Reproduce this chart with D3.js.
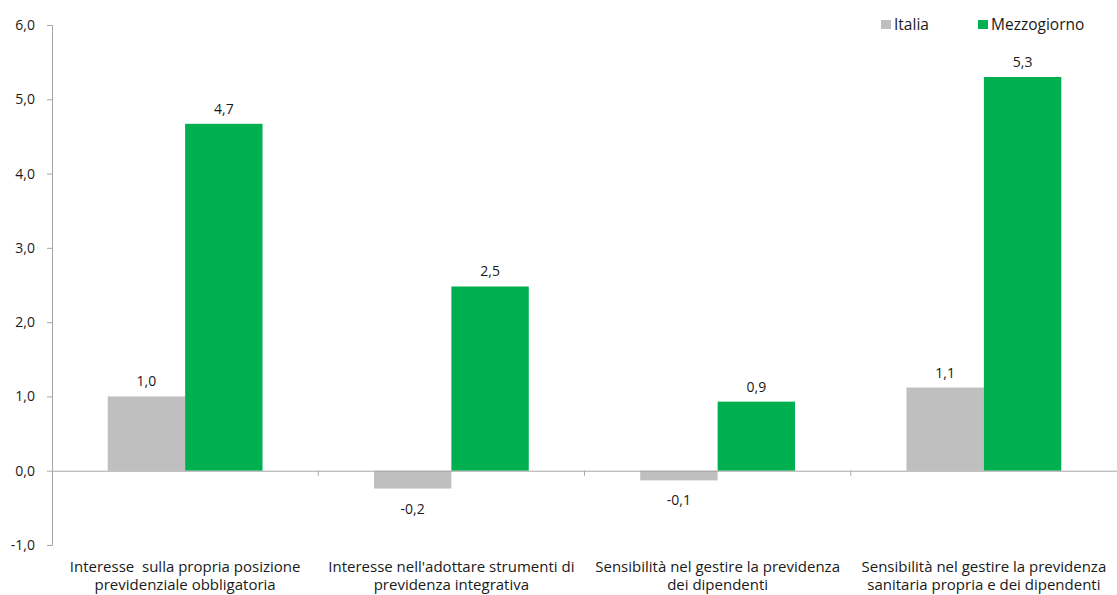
<!DOCTYPE html>
<html>
<head>
<meta charset="utf-8">
<script src="https://cdn.jsdelivr.net/npm/d3@7"></script>
<style>
  body { margin: 0; background: #fff; }
  svg { display: block; font-family: "Open Sans", "Noto Sans", sans-serif; }
</style>
</head>
<body>
<div id="chart"></div>
<script>
const categories = [
    ["Interesse  sulla propria posizione", "previdenziale obbligatoria"],
    ["Interesse nell'adottare strumenti di", "previdenza integrativa"],
    ["Sensibilità nel gestire la previdenza", "dei dipendenti"],
    ["Sensibilità nel gestire la previdenza", "sanitaria propria e dei dipendenti"]
];
const seriesNames = ["Italia", "Mezzogiorno"];
const italia = [1.0, -0.24, -0.13, 1.12];
const mezzogiorno = [4.67, 2.48, 0.93, 5.3];
const yTicks = [-1, 0, 1, 2, 3, 4, 5, 6];
const colors = ["#bfbfbf", "#00b050"];

const W = 1117, H = 595;
const margin = { top: 25, right: 0, bottom: 50, left: 52 };
const width = W - margin.left - margin.right;
const height = H - margin.top - margin.bottom;

const svg = d3.select("#chart").append("svg")
    .attr("width", W)
    .attr("height", H);
const g = svg.append("g")
    .attr("transform", `translate(${margin.left},${margin.top})`);

const fmt = v => d3.format(".1f")(v).replace(".", ",").replace("−", "-");

const x0 = d3.scaleBand().domain(d3.range(categories.length)).range([0, width]).padding(0);
const x1 = d3.scaleBand().domain(seriesNames).range([0, x0.bandwidth()]).paddingInner(0).paddingOuter(0.72);
const y = d3.scaleLinear().domain([-1, 6]).range([height, 0]);
const color = d3.scaleOrdinal().domain(seriesNames).range(colors);

const data = categories.map((c, i) => ({
    i: i,
    values: [
        { key: "Italia", value: italia[i] },
        { key: "Mezzogiorno", value: mezzogiorno[i] }
    ]
}));

// y axis
const yAxis = g.append("g")
    .call(d3.axisLeft(y).tickValues(yTicks).tickSize(5).tickPadding(12).tickFormat(fmt));
yAxis.select(".domain").attr("stroke", "#a6a6a6");
yAxis.selectAll(".tick line").attr("stroke", "#a6a6a6");
yAxis.selectAll(".tick text")
    .style("font-size", "14px")
    .style("fill", "#1a1a1a")
    .style("font-family", "'Open Sans', sans-serif");

// bars
const groups = g.selectAll(".group")
    .data(data)
    .enter().append("g")
    .attr("class", "group")
    .attr("transform", d => `translate(${x0(d.i)},0)`);

groups.selectAll("rect")
    .data(d => d.values)
    .enter().append("rect")
    .attr("x", d => x1(d.key))
    .attr("width", x1.bandwidth())
    .attr("y", d => y(Math.max(0, d.value)))
    .attr("height", d => Math.abs(y(d.value) - y(0)))
    .attr("fill", d => color(d.key));

groups.selectAll(".val")
    .data(d => d.values)
    .enter().append("text")
    .attr("class", "val")
    .attr("x", d => x1(d.key) + x1.bandwidth() / 2)
    .attr("y", d => d.value >= 0 ? y(d.value) - 10 : y(d.value) + 25)
    .attr("text-anchor", "middle")
    .style("font-size", "14px")
    .style("fill", "#1a1a1a")
    .text(d => fmt(d.value));

// zero line with group ticks
const xAxis = g.append("g")
    .attr("transform", `translate(0,${y(0)})`)
    .call(d3.axisBottom(x0).tickSize(0).tickFormat(""));
xAxis.select(".domain").attr("stroke", "#a6a6a6");
g.selectAll(".sep")
    .data(d3.range(1, categories.length))
    .enter().append("line")
    .attr("class", "sep")
    .attr("x1", d => x0(d))
    .attr("x2", d => x0(d))
    .attr("y1", y(0))
    .attr("y2", y(0) + 5)
    .attr("stroke", "#a6a6a6");

// category labels
const cat = g.selectAll(".cat")
    .data(categories)
    .enter().append("text")
    .attr("class", "cat")
    .attr("text-anchor", "middle")
    .attr("x", (d, i) => x0(i) + x0.bandwidth() / 2)
    .attr("y", height + 27)
    .style("font-size", "15px")
    .style("white-space", "pre")
    .style("fill", "#1a1a1a");
cat.each(function(d, i) {
    const t = d3.select(this);
    d.forEach((line, k) => {
        t.append("tspan")
            .attr("x", x0(i) + x0.bandwidth() / 2)
            .attr("dy", k === 0 ? 0 : 18)
            .text(line);
    });
});

// legend
const legendX = [881, 978];
const legend = svg.selectAll(".legend")
    .data(seriesNames)
    .enter().append("g")
    .attr("class", "legend")
    .attr("transform", (d, i) => `translate(${legendX[i]},20)`);
legend.append("rect")
    .attr("width", 10)
    .attr("height", 9)
    .attr("fill", d => color(d));
legend.append("text")
    .attr("x", 13)
    .attr("y", 10)
    .style("font-size", "15.5px")
    .style("fill", "#1a1a1a")
    .text(d => d);
</script>
</body>
</html>
